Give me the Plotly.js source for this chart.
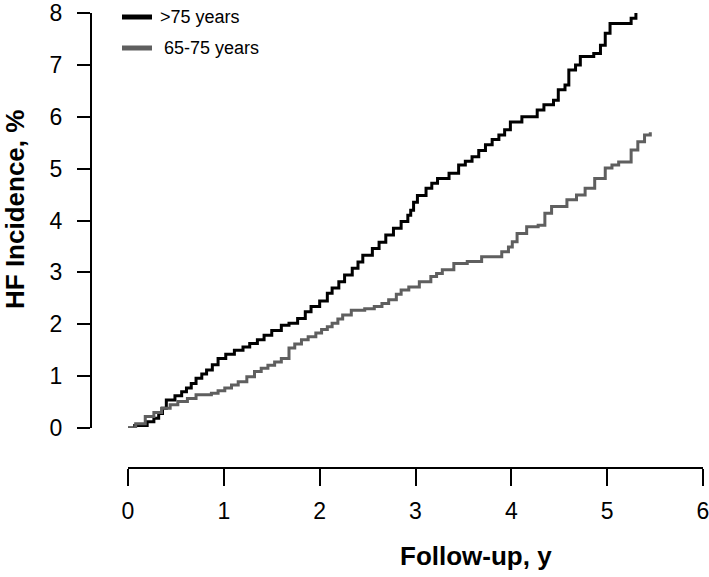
<!DOCTYPE html>
<html>
<head>
<meta charset="utf-8">
<script src="https://cdn.plot.ly/plotly-3.0.1.min.js"></script>
<style>html,body{margin:0;padding:0;background:#fff;}#chart{width:709px;height:577px;}</style>
</head>
<body>
<div id="chart"></div>
<script>
// Follow-up (years) and cumulative HF incidence (%) — step curves
const olderYears = [0,0.07,0.2,0.27,0.32,0.36,0.4,0.49,0.56,0.61,0.66,0.71,0.77,0.82,0.88,0.94,1.02,1.11,1.2,1.27,1.35,1.42,1.5,1.6,1.68,1.77,1.85,1.91,2.0,2.08,2.13,2.2,2.26,2.34,2.4,2.45,2.55,2.62,2.69,2.77,2.85,2.92,2.95,2.98,3.02,3.11,3.17,3.23,3.35,3.45,3.52,3.59,3.66,3.73,3.8,3.87,3.93,3.99,4.11,4.27,4.34,4.44,4.49,4.56,4.6,4.67,4.72,4.86,4.93,4.98,5.03,5.25,5.3];
const olderIncidence = [0,0.05,0.12,0.19,0.28,0.38,0.54,0.62,0.7,0.77,0.86,0.96,1.04,1.12,1.22,1.34,1.42,1.5,1.56,1.63,1.7,1.79,1.88,1.98,2.02,2.11,2.24,2.34,2.45,2.6,2.7,2.82,2.95,3.08,3.2,3.33,3.46,3.58,3.72,3.85,3.98,4.1,4.2,4.35,4.48,4.62,4.72,4.81,4.91,5.07,5.14,5.23,5.35,5.46,5.56,5.65,5.75,5.9,6.0,6.13,6.23,6.32,6.52,6.61,6.9,7.0,7.16,7.22,7.38,7.61,7.8,7.9,8.0];

const youngerYears = [0,0.08,0.18,0.27,0.35,0.44,0.52,0.62,0.71,0.87,0.94,1.01,1.08,1.15,1.24,1.32,1.39,1.46,1.53,1.6,1.68,1.74,1.81,1.88,1.96,2.02,2.08,2.13,2.19,2.24,2.33,2.47,2.57,2.65,2.72,2.8,2.85,2.93,3.04,3.16,3.22,3.28,3.4,3.54,3.69,3.9,3.97,4.01,4.06,4.16,4.28,4.35,4.42,4.58,4.68,4.77,4.87,4.98,5.05,5.12,5.25,5.32,5.39,5.45];
const youngerIncidence = [0,0.08,0.22,0.3,0.38,0.45,0.51,0.57,0.64,0.67,0.72,0.77,0.83,0.89,0.99,1.09,1.15,1.21,1.27,1.34,1.54,1.62,1.7,1.76,1.83,1.9,1.95,2.02,2.1,2.18,2.27,2.3,2.34,2.4,2.47,2.58,2.66,2.72,2.82,2.92,2.98,3.05,3.17,3.21,3.3,3.4,3.49,3.59,3.75,3.88,3.91,4.14,4.27,4.4,4.49,4.62,4.81,5.01,5.07,5.13,5.36,5.52,5.65,5.7];

const seriesNames = ['>75 years', '65-75 years'];
const xTicks = [0,1,2,3,4,5,6];
const yTicks = [0,1,2,3,4,5,6,7,8];

const FONT = 'Liberation Sans, Arial, Helvetica, sans-serif';
const BLACK = '#000000';
const GRAY = '#5f5f5f';

const traces = [
  {x: olderYears, y: olderIncidence, name: seriesNames[0], type: 'scatter', mode: 'lines',
   line: {color: BLACK, width: 3, shape: 'hv'}, hoverinfo: 'skip'},
  {x: youngerYears, y: youngerIncidence, name: seriesNames[1], type: 'scatter', mode: 'lines',
   line: {color: GRAY, width: 3, shape: 'hv'}, hoverinfo: 'skip'}
];

// plot area: x 91..703 px, y 13..468 px
const L = 91, T = 13, W = 612, H = 455;
const px = v => (v - L) / W;
const py = v => (T + H - v) / H;

const layout = {
  width: 709, height: 577,
  margin: {l: L, r: 709 - L - W, t: T, b: 577 - T - H, pad: 0},
  paper_bgcolor: '#ffffff', plot_bgcolor: '#ffffff',
  showlegend: false,
  font: {family: FONT, color: '#000000'},
  xaxis: {
    domain: [px(128), 1], range: [0, 6], anchor: 'free', position: 0,
    tickvals: xTicks, ticktext: xTicks.map(String),
    showline: true, linecolor: '#000', linewidth: 2,
    ticks: 'outside', ticklen: 17, tickwidth: 2, tickcolor: '#000',
    showgrid: false, zeroline: false, ticklabeloverflow: 'allow',
    tickfont: {family: FONT, size: 23, color: '#000'}, ticklabelstandoff: 5
  },
  yaxis: {
    domain: [py(428), 1], range: [0, 8], anchor: 'free', position: 0,
    tickvals: yTicks, ticktext: yTicks.map(String),
    showline: true, linecolor: '#000', linewidth: 2,
    ticks: 'outside', ticklen: 13, tickwidth: 2, tickcolor: '#000',
    showgrid: false, zeroline: false, ticklabeloverflow: 'allow',
    tickfont: {family: FONT, size: 23, color: '#000'}, ticklabelstandoff: 10
  },
  shapes: [
    {type: 'line', xref: 'paper', yref: 'paper', x0: px(122), x1: px(152), y0: py(17), y1: py(17),
     line: {color: BLACK, width: 5}},
    {type: 'line', xref: 'paper', yref: 'paper', x0: px(122), x1: px(152), y0: py(48), y1: py(48),
     line: {color: GRAY, width: 5}}
  ],
  annotations: [
    {xref: 'paper', yref: 'paper', x: px(158), y: py(17), xanchor: 'left', yanchor: 'middle',
     text: seriesNames[0], showarrow: false, font: {family: FONT, size: 18, color: '#000'}},
    {xref: 'paper', yref: 'paper', x: px(162), y: py(48), xanchor: 'left', yanchor: 'middle',
     text: seriesNames[1], showarrow: false, font: {family: FONT, size: 18, color: '#000'}},
    {xref: 'paper', yref: 'paper', x: px(15), y: py(210), xanchor: 'center', yanchor: 'middle',
     textangle: -90, text: '<b>HF Incidence, %</b>', showarrow: false,
     font: {family: FONT, size: 26, color: '#000'}},
    {xref: 'paper', yref: 'paper', x: px(476), y: py(556), xanchor: 'center', yanchor: 'middle',
     text: '<b>Follow-up, y</b>', showarrow: false,
     font: {family: FONT, size: 26, color: '#000'}}
  ]
};

Plotly.newPlot('chart', traces, layout, {staticPlot: true, displayModeBar: false});
</script>
</body>
</html>
